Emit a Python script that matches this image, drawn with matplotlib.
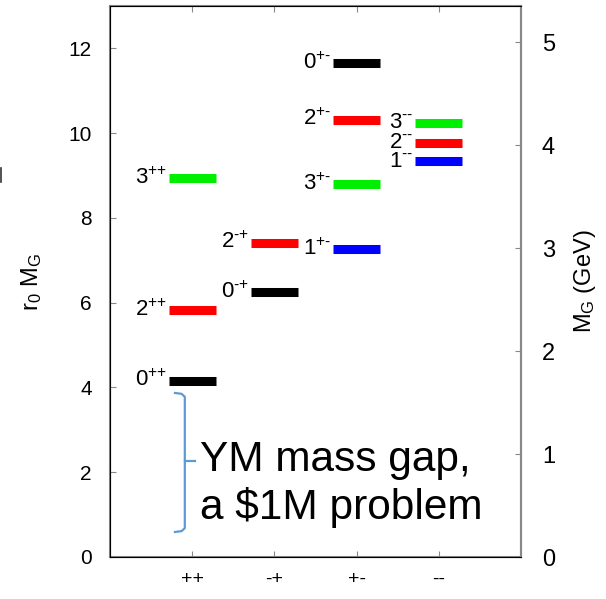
"""Glueball spectrum: r0 M_G per PC channel, with GeV scale on the right."""

import matplotlib

matplotlib.use("Agg")
import matplotlib.pyplot as plt
from matplotlib.lines import Line2D

plt.rcParams["font.family"] = ["Liberation Sans", "DejaVu Sans"]
plt.rcParams["mathtext.fontset"] = "custom"
plt.rcParams["mathtext.rm"] = "Liberation Sans"
plt.rcParams["mathtext.it"] = "Liberation Sans"

# PC channels on the x axis
pc_channels = ["++", "-+", "+-", "--"]

# states: channel index (1-based), spin J, mass in r0 units
state_channel = [1, 1, 1, 2, 2, 3, 3, 3, 3, 4, 4, 4]
state_spin = [0, 2, 3, 0, 2, 0, 2, 3, 1, 3, 2, 1]
state_mass = [4.16, 5.83, 8.94, 6.25, 7.42, 11.66, 10.32, 8.79, 7.27, 10.25, 9.77, 9.34]

spin_colors = {0: "black", 1: "#0000ff", 2: "#ff0000", 3: "#00ee00"}
r0_per_gev = 2.43
grey = "#888888"

fig = plt.figure(figsize=(6.06, 5.99), dpi=100)
ax = fig.add_axes([110 / 606, 42 / 599, 411 / 606, 551 / 599])

half_width = 0.285
for ch, spin, mass in zip(state_channel, state_spin, state_mass):
    ax.hlines(mass, ch - half_width, ch + half_width, color=spin_colors[spin],
              lw=6.5, capstyle="butt")
    pc = pc_channels[ch - 1]
    ax.text(ch - half_width - 0.02, mass, rf"${spin}^{{\text{{{pc}}}}}$",
            ha="right", va="center", fontsize=16)

ax.set_xlim(0, 5)
ax.set_ylim(0, 13)
ax.set_xticks(range(1, len(pc_channels) + 1), labels=pc_channels)
ax.set_yticks(range(0, 13, 2))
ax.tick_params(axis="x", direction="in", length=4, top=True, labelsize=14,
               pad=10, color=grey)
ax.tick_params(axis="y", direction="in", length=4, labelsize=15, pad=13,
               color=grey)
for spine in ax.spines.values():
    spine.set_color(grey)
    spine.set_linewidth(1.5)
ax.set_ylabel(r"r$_0$ M$_G$", fontsize=17, labelpad=18)

right = ax.twinx()
right.set_ylim(0, 13 / r0_per_gev)
right.set_yticks(range(0, 6))
right.tick_params(axis="y", direction="in", length=4, labelsize=17, pad=15,
                  color=grey)
right.spines["right"].set_color(grey)
right.spines["right"].set_linewidth(1.5)
right.set_ylabel(r"M$_G$ (GeV)", fontsize=17, labelpad=12)

# bracket marking the mass gap
bracket = "#5b9bd5"
ax.plot([0.79, 0.87, 0.91, 0.91, 0.87, 0.79],
        [3.87, 3.85, 3.78, 0.68, 0.61, 0.59], color=bracket, lw=1.6)
ax.plot([0.91, 1.03], [2.26, 2.26], color=bracket, lw=1.6)
ax.text(1.09, 1.72, "YM mass gap,\na \\$1M problem", fontsize=30.5,
        ha="left", va="center", linespacing=1.2)

# sliver of a clipped glyph at the left edge
fig.add_artist(Line2D([0.8 / 606, 0.8 / 606], [1 - 168 / 599, 1 - 182 / 599],
                      transform=fig.transFigure, color="#333333", lw=1.2))

fig.savefig("out.png", dpi=100)
